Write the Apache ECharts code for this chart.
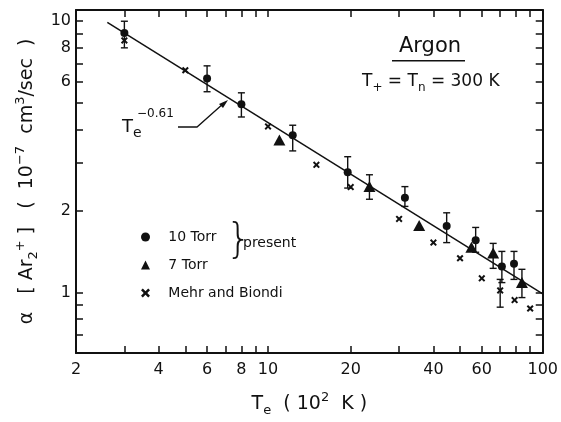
<!DOCTYPE html>
<html>
<head>
<meta charset="utf-8">
<script src="https://cdn.jsdelivr.net/npm/echarts@6/dist/echarts.min.js"></script>
<style>
html,body{margin:0;padding:0;background:#fff}
#main{width:561px;height:422px}
</style>
</head>
<body>
<div id="main"></div>
<script>
// ticks and labels
var xTicks = [2,3,4,5,6,7,8,9,10,20,30,40,50,60,70,80,90,100];
var xLabels = [2,4,6,8,10,20,40,60,100];
var yTicks = [0.6,0.7,0.8,0.9,1,2,3,4,5,6,7,8,9,10];
var yLabels = [1,2,6,8,10];

// 10 Torr (circles), 7 Torr (triangles), Mehr and Biondi (x)
var torr10 = [[3,9.05],[6,6.15],[8,4.95],[12.3,3.8],[19.5,2.78],[31.5,2.24],[44.7,1.76],[57,1.56],[71,1.25],[78.6,1.28]];
var torr7 = [[11,3.65],[23.4,2.46],[35.5,1.77],[55,1.47],[66,1.4],[84,1.09]];
var mehr = [[3,8.5],[5,6.6],[10,4.1],[15,2.96],[20,2.45],[30,1.87],[40,1.53],[50,1.34],[60,1.13],[70,1.02],[79,0.94],[90,0.875]];

// error bars: x, low, high
var errBars = [
  [3,7.98,10.0],[6,5.5,6.85],[8,4.44,5.45],[12.3,3.33,4.14],[19.5,2.43,3.17],
  [31.5,2.08,2.46],[44.7,1.53,1.97],[57,1.41,1.74],[71,1.09,1.42],[78.6,1.12,1.42],
  [23.4,2.21,2.72],[66,1.23,1.52],[84,0.96,1.22],
  [70,0.885,1.12]
];

// fitted T_e^-0.61 line
var fitLine = [[2.6,9.9],[100,0.99]];

var ink = '#111';
var fnt = 'DejaVu Sans';
var xPath = 'path://M0,2L2,0L5,3L8,0L10,2L7,5L10,8L8,10L5,7L2,10L0,8L3,5Z';

var dom = document.getElementById('main');
var myChart = echarts.init(dom);

var tickStyle = {inside: true, length: 7, lineStyle: {color: ink, width: 1.5}};
var lineStyle = {color: ink, width: 2};
var nameRich = {
  m: {fontSize: 19, fontFamily: fnt, color: ink, lineHeight: 26, verticalAlign: 'middle'},
  s: {fontSize: 13, fontFamily: fnt, color: ink, verticalAlign: 'bottom', lineHeight: 14},
  p: {fontSize: 13, fontFamily: fnt, color: ink, verticalAlign: 'top', lineHeight: 12}
};

var option = {
  animation: false,
  backgroundColor: '#fff',
  textStyle: {fontFamily: fnt, color: ink},
  grid: {left: 76, right: 15, top: 10, bottom: 65},
  legend: {
    orient: 'vertical',
    left: 136,
    top: 225,
    itemWidth: 9,
    itemHeight: 9,
    itemGap: 14,
    selectedMode: false,
    formatter: function (name) { return '   ' + name; },
    textStyle: {fontSize: 14, color: ink, fontFamily: fnt},
    data: [
      {name: '10 Torr', icon: 'circle'},
      {name: '7 Torr', icon: 'triangle'},
      {name: 'Mehr and Biondi', icon: xPath}
    ]
  },
  xAxis: [
    {
      type: 'log', min: 2, max: 100, position: 'bottom',
      axisLine: {lineStyle: lineStyle},
      axisTick: Object.assign({customValues: xTicks}, tickStyle),
      axisLabel: {customValues: xLabels, fontSize: 16, color: ink, margin: 9, fontFamily: fnt},
      splitLine: {show: false},
      name: '{m|T}{s|e}{m|  ( 10}{p|2}{m|  K )}',
      nameLocation: 'middle',
      nameGap: 38,
      nameTextStyle: {rich: nameRich}
    },
    {
      type: 'log', min: 2, max: 100, position: 'top',
      axisLine: {lineStyle: lineStyle},
      axisTick: Object.assign({customValues: xTicks}, tickStyle),
      axisLabel: {show: false},
      splitLine: {show: false}
    }
  ],
  yAxis: [
    {
      type: 'log', min: 0.6, max: 11, position: 'left',
      axisLine: {lineStyle: lineStyle},
      axisTick: Object.assign({customValues: yTicks}, tickStyle),
      axisLabel: {customValues: yLabels, fontSize: 16, color: ink, margin: 5, fontFamily: fnt},
      splitLine: {show: false},
      name: '{m|α   [ Ar}{s|2}{p|+}{m| ]   (  10}{p|−7}{m|  cm}{p|3}{m|/sec  )}',
      nameLocation: 'middle',
      nameRotate: 90,
      nameGap: 36,
      nameTextStyle: {rich: nameRich}
    },
    {
      type: 'log', min: 0.6, max: 11, position: 'right',
      axisLine: {lineStyle: lineStyle},
      axisTick: Object.assign({customValues: yTicks}, tickStyle),
      axisLabel: {show: false},
      splitLine: {show: false}
    }
  ],
  graphic: [
    {type: 'text', x: 430, y: 47, style: {text: 'Argon', font: '21px DejaVu Sans', fill: ink, align: 'center', verticalAlign: 'middle'}},
    {type: 'rect', shape: {x: 392, y: 60, width: 73, height: 1.5}, style: {fill: ink}},
    {type: 'text', x: 362, y: 82, style: {
      text: '{m|T}{s|+}{m| = T}{s|n}{m| = 300 K}',
      verticalAlign: 'middle',
      rich: {
        m: {fontSize: 17, fontFamily: fnt, fill: ink, lineHeight: 24, verticalAlign: 'middle'},
        s: {fontSize: 12, fontFamily: fnt, fill: ink, lineHeight: 12, verticalAlign: 'bottom'}
      }
    }},
    {type: 'text', x: 226, y: 242, style: {text: '}', font: '300 40px DejaVu Sans', fill: ink, verticalAlign: 'middle'}},
    {type: 'text', x: 243, y: 243, style: {text: 'present', font: '14px DejaVu Sans', fill: ink, verticalAlign: 'middle'}},
    {type: 'text', x: 122, y: 127, style: {text: 'T', font: '18px DejaVu Sans', fill: ink, verticalAlign: 'middle'}},
    {type: 'text', x: 133, y: 133, style: {text: 'e', font: '14px DejaVu Sans', fill: ink, verticalAlign: 'middle'}},
    {type: 'text', x: 137, y: 114, style: {text: '−0.61', font: '12px DejaVu Sans', fill: ink, verticalAlign: 'middle'}},
    {type: 'polyline', shape: {points: [[178,127],[197,127],[224,103]]}, style: {stroke: ink, lineWidth: 1.3, fill: null}},
    {type: 'polygon', shape: {points: [[228,100],[219,104],[223,108]]}, style: {fill: ink}}
  ],
  series: [
    {
      name: 'fit',
      type: 'line',
      data: fitLine,
      symbol: 'none',
      lineStyle: {color: ink, width: 1.5},
      silent: true
    },
    {
      name: 'errors',
      type: 'custom',
      data: errBars,
      encode: {x: 0, y: [1, 2]},
      renderItem: function (params, api) {
        var lo = api.coord([api.value(0), api.value(1)]);
        var hi = api.coord([api.value(0), api.value(2)]);
        var w = 3.5;
        var st = {stroke: ink, lineWidth: 1.4};
        return {type: 'group', children: [
          {type: 'line', shape: {x1: lo[0], y1: lo[1], x2: hi[0], y2: hi[1]}, style: st},
          {type: 'line', shape: {x1: lo[0] - w, y1: lo[1], x2: lo[0] + w, y2: lo[1]}, style: st},
          {type: 'line', shape: {x1: hi[0] - w, y1: hi[1], x2: hi[0] + w, y2: hi[1]}, style: st}
        ]};
      }
    },
    {
      name: '10 Torr',
      type: 'scatter',
      data: torr10,
      symbol: 'circle',
      symbolSize: 8,
      itemStyle: {color: ink, opacity: 1}
    },
    {
      name: '7 Torr',
      type: 'scatter',
      data: torr7,
      symbol: 'triangle',
      symbolSize: [12, 11],
      itemStyle: {color: ink, opacity: 1}
    },
    {
      name: 'Mehr and Biondi',
      type: 'scatter',
      data: mehr,
      symbol: xPath,
      symbolSize: 7,
      itemStyle: {color: ink, opacity: 1}
    }
  ]
};

if (option && typeof option === 'object') {
  myChart.setOption(option, true);
}
</script>
</body>
</html>
